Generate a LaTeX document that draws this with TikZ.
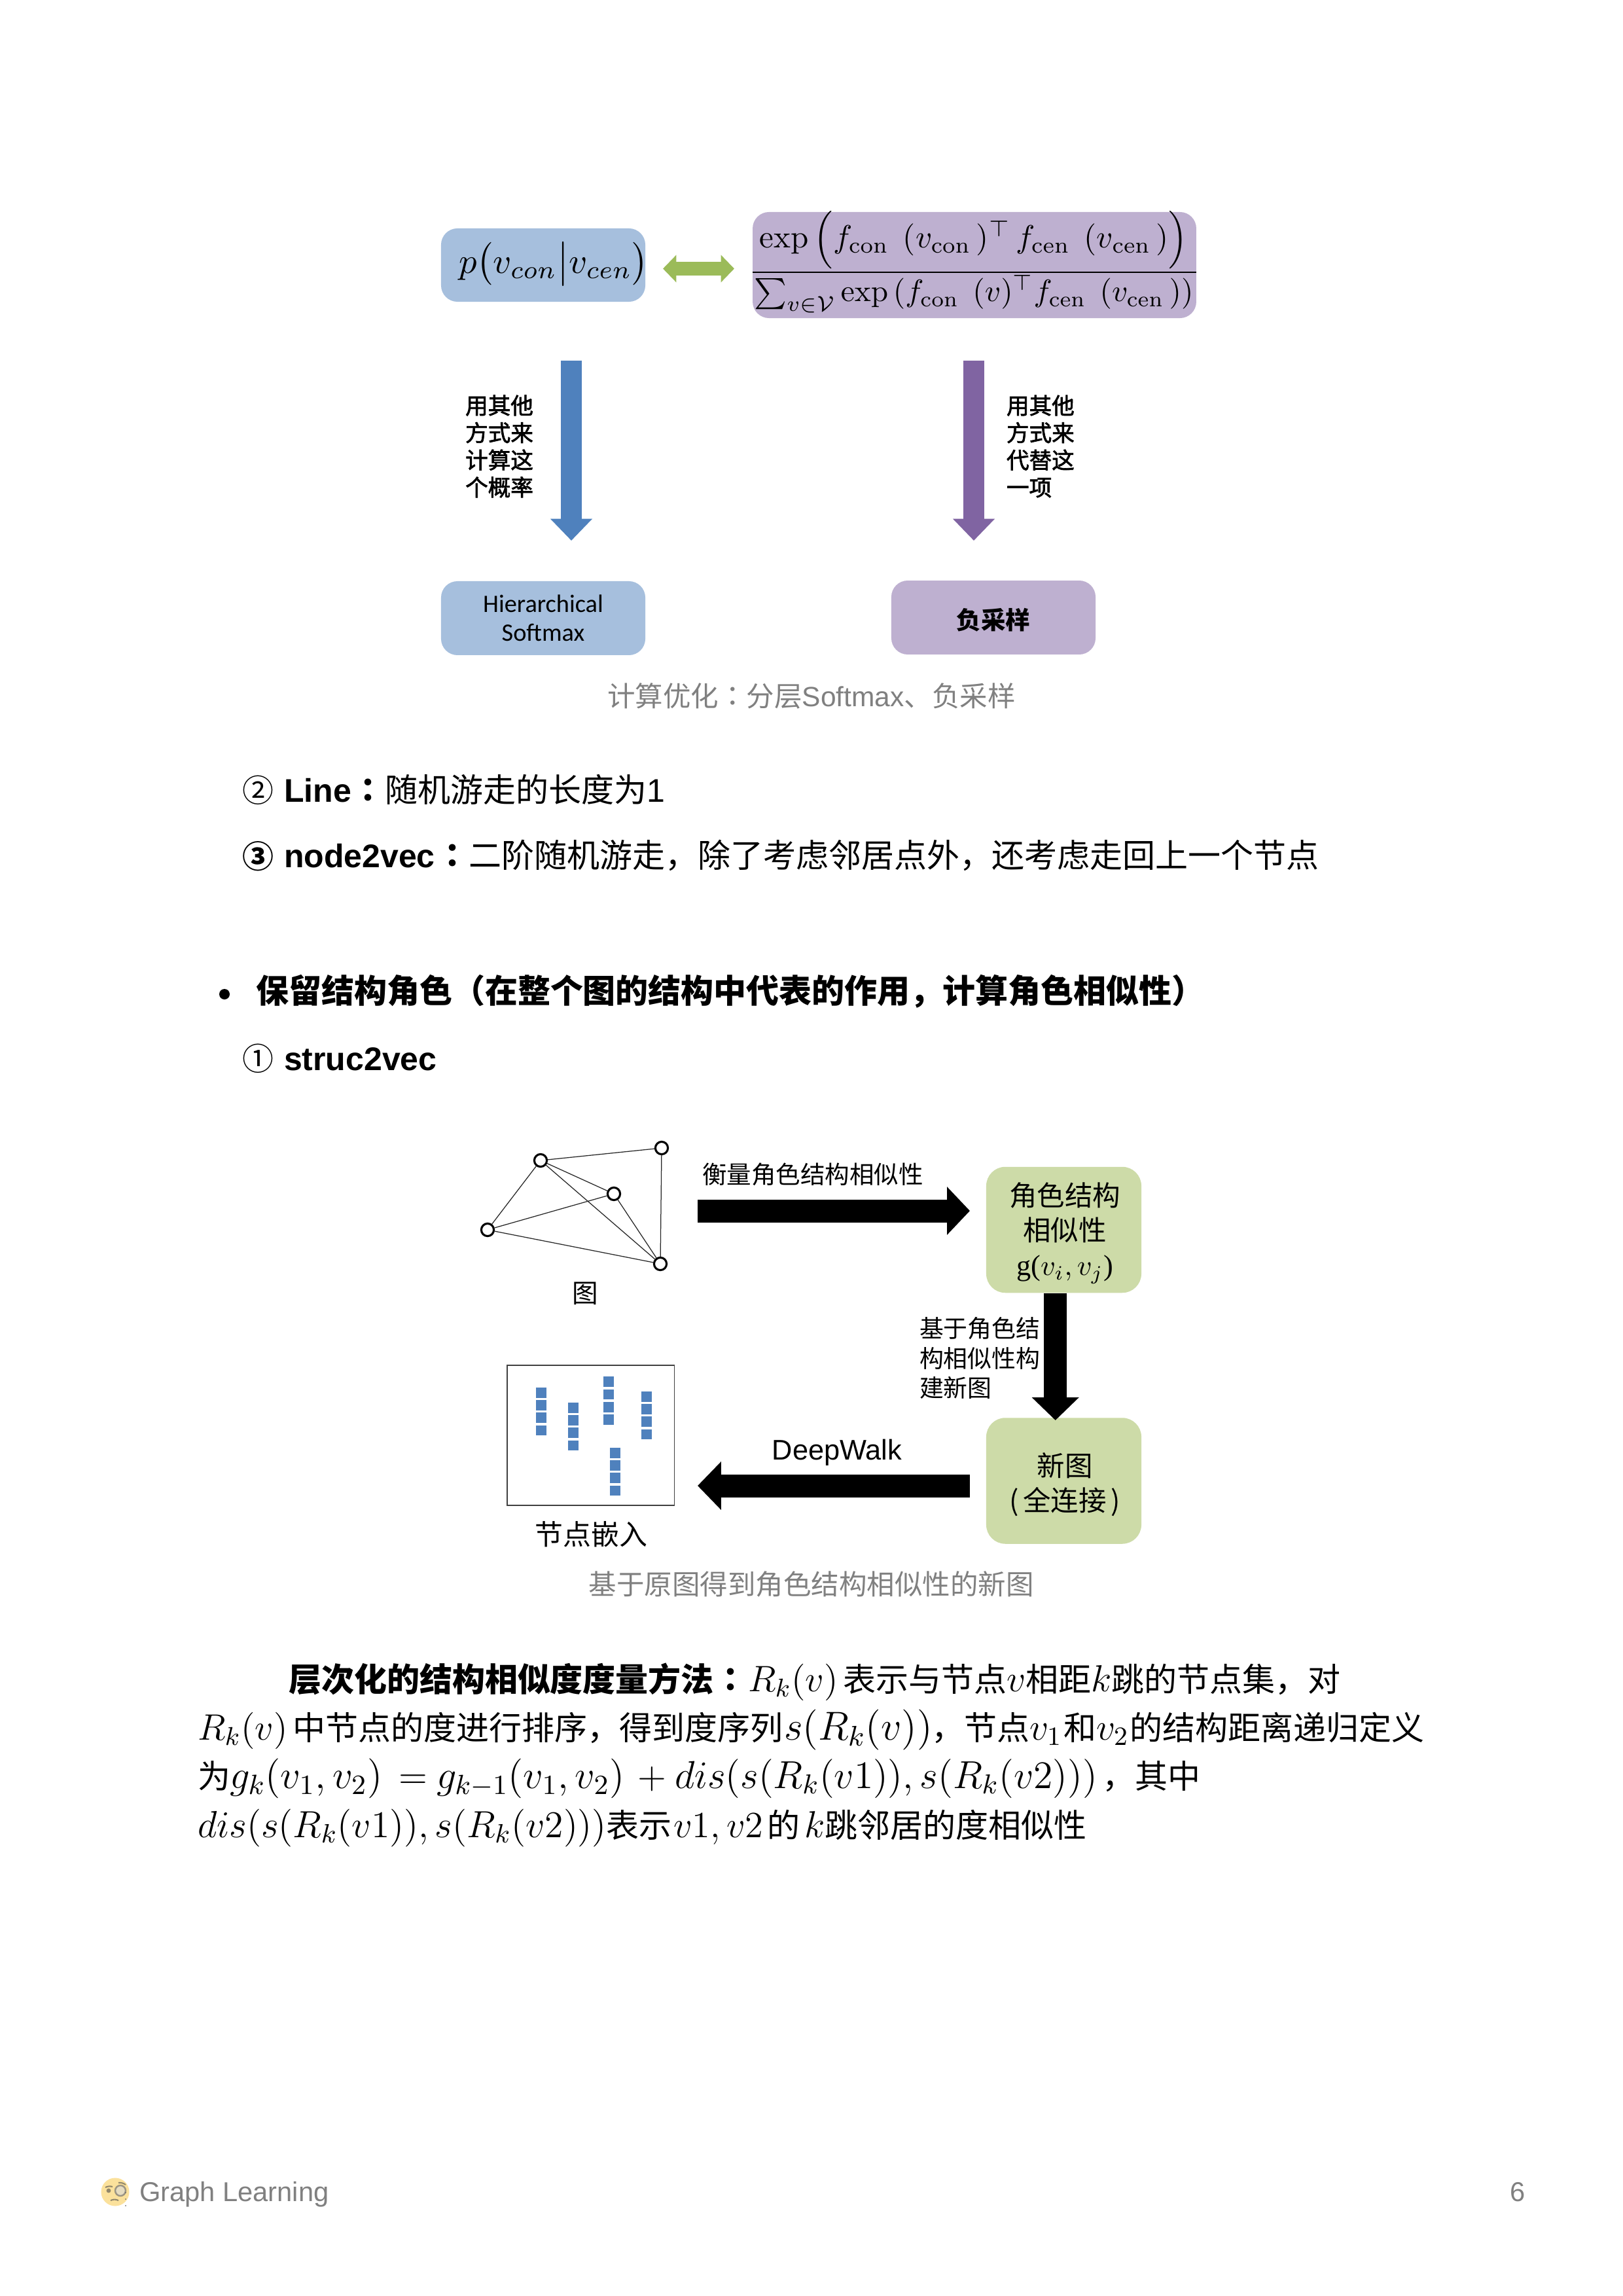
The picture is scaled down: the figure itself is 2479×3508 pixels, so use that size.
\RequirePackage{fix-cm}
\documentclass[tikz,border=0pt]{standalone}
\usepackage[no-math]{fontspec}
\usepackage{amsmath,amssymb,graphicx}
\usetikzlibrary{arrows.meta,calc}
\setmainfont{Liberation Sans}
\newfontfamily\cjk{Noto Sans CJK SC}
\newfontfamily\cjktc{Noto Sans CJK TC}
\newfontfamily\cjkm[FakeBold=2]{Noto Sans CJK SC}
\newfontfamily\carl{Carlito}
\newfontfamily\lser{Liberation Serif}
\newcommand\fsz[1]{\fontsize{#1}{#1}\selectfont}
\newcommand\zh[1]{{\cjk\fsz{12}#1}}
\newcommand\zhb[1]{{\cjk\bfseries\fsz{12}#1}}
\newcommand\mfit[2]{\resizebox{#1}{!}{$#2$}}
\newcommand\mcon{\mathrm{con}}
\newcommand\mcen{\mathrm{cen}}
\definecolor{boxblue}{HTML}{A6BFDD}
\definecolor{boxpurple}{HTML}{BEB0D0}
\definecolor{boxgreen}{HTML}{CDDBA8}
\definecolor{arrgreen}{HTML}{9BBB59}
\definecolor{arrblue}{HTML}{4F81BD}
\definecolor{arrpurple}{HTML}{8064A2}
\definecolor{capgrey}{HTML}{808080}
\tikzset{
  rbox/.style={rounded corners=6pt,inner sep=0pt,align=center},
  gbox/.style={rbox,fill=boxgreen,minimum width=56.9pt,minimum height=46.2pt,rounded corners=7pt},
  lab/.style={inner sep=0pt,outer sep=0pt},
  glabel/.style={lab,font=\cjk\fsz{10.2},align=center},
  body/.style={lab,anchor=base west,font=\fsz{12}},
  mbody/.style={lab,anchor=base west,font=\fsz{13.8}},
  vlabel/.style={lab,align=left,font=\cjkm\fsz{8.3}},
  dlabel/.style={lab,font=\cjk\fsz{9}},
  caption/.style={lab,text=capgrey,font=\cjk\fsz{10.2}},
  gnode/.style={circle,draw=black,line width=.75pt,fill=white,minimum size=4.6pt,inner sep=0pt},
  gedge/.style={line width=.3pt,draw=black!85},
  blockarrow/.style={line width=#1,line cap=butt},
}
\begin{document}
\begin{tikzpicture}[x=.24pt,y=-.24pt]
\useasboundingbox (0,0) rectangle (2479,3508);
% --- top figure
\node[rbox,fill=boxblue,minimum width=74.9pt,minimum height=26.9pt] (pbox) at (830,405) {};
\node[lab] (plabel) at (846,403.6) {\resizebox{69.5pt}{!}{$p\big(v_{con}\big|v_{cen}\big)$}};
\node[rbox,fill=boxpurple,minimum width=162.7pt,minimum height=38.9pt] (qbox) at (1489,405) {};
\node[lab,anchor=base] (qnum) at (1488,379) {\resizebox{157pt}{!}{$\exp\Big(f_{\mcon}\;\,(v_{\mcon}\,)^{\top}\,f_{\mcen}\;\,(v_{\mcen}\,)\Big)$}};
\node[lab,anchor=base] (qden) at (1488,461) {\resizebox{161pt}{!}{$\sum_{v\in\mathcal{V}}\exp\,(f_{\mcon}\;\,(v)^{\top}f_{\mcen}\;\,(v_{\mcen}\,))$}};
\coordinate (fl) at (1150,416);
\coordinate (fr) at (1828,416);
\draw[line width=.5pt] (fl) -- (fr);
\coordinate (gl) at (1013,410.5);
\coordinate (gr) at (1122,410.5);
\draw[arrgreen,line width=5pt,{Triangle[length=4.9pt,width=9.8pt]}-{Triangle[length=4.9pt,width=9.8pt]}] (gl) -- (gr);
\coordinate (ba) at (873,551);
\coordinate (bb) at (873,826);
\draw[arrblue,blockarrow=7.7pt,-{Triangle[length=8pt,width=14.9pt]}] (ba) -- (bb);
\coordinate (pa) at (1488,551);
\coordinate (pb) at (1488,826);
\draw[arrpurple,blockarrow=7.7pt,-{Triangle[length=8pt,width=14.9pt]}] (pa) -- (pb);
\node[vlabel] (vl1) at (763,682) {用其他\\[1.7pt]方式来\\[1.7pt]计算这\\[1.7pt]个概率};
\node[vlabel,anchor=west] (vl2) at (1538,682) {用其他\\[1.7pt]方式来\\[1.7pt]代替这\\[1.7pt]一项};
\node[rbox,fill=boxblue,minimum width=74.9pt,minimum height=27.12pt,font=\carl\fsz{9.2}] (hs) at (830,944.5) {Hierarchical\\[1.5pt]Softmax};
\node[rbox,fill=boxpurple,minimum width=74.9pt,minimum height=27.12pt] (ns) at (1518,943.5) {};
\node[lab,font=\cjk\bfseries\fsz{9}] (nsl) at (1518,947) {负采样};
\node[caption] (cap1) at (1240,1063) {计算优化{\cjktc ：}分层{\rmfamily Softmax}、负采样};
% --- list
\node[lab,font=\cjk\fsz{11.5}] (c2) at (394,1207) {②};
\node[body] (l2) at (434,1225) {\textbf{Line}};
\node[body] (l2c) at (537,1225) {{\cjktc\bfseries\fsz{12}：}};
\node[body] (l2b) at (588,1225) {\zh{随机游走的长度为}1};
\node[lab,font=\cjk\bfseries\fsz{11.5}] (c3) at (394,1308) {③};
\node[body] (l3) at (434,1325) {\textbf{node2vec}};
\node[body] (l3c) at (666,1325) {{\cjktc\bfseries\fsz{12}：}};
\node[body] (l3b) at (716,1325) {\zh{二阶随机游走，除了考虑邻居点外，还考虑走回上一个节点}};
\fill (343,1519) circle (8);
\node[body] (h1) at (391,1532) {\zhb{保留结构角色（在整个图的结构中代表的作用，计算角色相似性）}};
\node[lab,font=\cjk\fsz{11.5}] (c1) at (394,1617) {①};
\node[body] (l1) at (434,1635) {\textbf{struc2vec}};
% --- second figure
\node[gnode] (a) at (826,1773) {};
\node[gnode] (b) at (1011,1754) {};
\node[gnode] (c) at (938,1824) {};
\node[gnode] (d) at (745,1879) {};
\node[gnode] (e) at (1009,1931) {};
\draw[gedge] (a)--(b) (a)--(c) (a)--(d) (a)--(e) (b)--(e) (c)--(d) (c)--(e) (d)--(e);
\node[lab,font=\cjk\fsz{9.5}] (gl1) at (894,1976) {图};
\node[dlabel] (al1) at (1242,1794) {衡量角色结构相似性};
\node[gbox] (sim) at (1625.5,1879) {};
\node[glabel] (siml) at (1627,1884) {角色结构\\[2.6pt]相似性\\[2.6pt]\resizebox{35.4pt}{!}{{\lser g(}$v_i,v_j${\lser )}}};
\node[gbox] (new) at (1625.5,2262.5) {};
\node[glabel] (newl) at (1627,2268) {新图\\[2.6pt](\kern1.6pt全连接\kern1.6pt)};
\coordinate (a1s) at (1066,1850);
\coordinate (a1e) at (1482,1850);
\draw[black,blockarrow=8.4pt,-{Triangle[length=8.4pt,width=17.2pt]}] (a1s) -- (a1e);
\coordinate (a2s) at (1612.7,1975.5);
\coordinate (a2e) at (1612.7,2170);
\draw[black,blockarrow=8.4pt,-{Triangle[length=8.4pt,width=16.8pt]}] (a2s) -- (a2e);
\coordinate (a3s) at (1482,2270);
\coordinate (a3e) at (1066,2270);
\draw[black,blockarrow=8.4pt,-{Triangle[length=8.6pt,width=17.2pt]}] (a3s) -- (a3e);
\node[dlabel,align=left,anchor=west,font=\cjk\fsz{8.85}] (al2) at (1405,2075) {基于角色结\\[2pt]构相似性构\\[2pt]建新图};
\node[lab,font=\fsz{10.4}] (al3) at (1279,2219) {DeepWalk};
\draw[line width=.45pt,draw=black!75] (775,2086) rectangle (1030.5,2300);
\foreach \cx/\cy in {827/2120,875.5/2143,929.5/2103.4,988/2126,940/2212}{
  \foreach \i in {0,1,2,3}{
    \fill[arrblue] ({\cx-8},{\cy+\i*19.2}) rectangle ({\cx+8},{\cy+\i*19.2+15.7});
  }
}
\node[lab,font=\cjk\fsz{10.3}] (gl2) at (903.5,2344) {节点嵌入};
\node[caption] (cap2) at (1239.5,2420.5) {基于原图得到角色结构相似性的新图};
% --- paragraph
\node[body] (p0) at (441,2584) {\zhb{层次化的结构相似度度量方法}};
\node[body] (p0c) at (1091,2584) {{\cjktc\bfseries\fsz{12}：}};
\node[mbody] (p1a) at (1143,2584) {\mfit{33pt}{R_k(v)}};
\node[mbody] (p1b) at (1288,2584) {\zh{表示与节点}$v$\zh{相距}$k$\zh{跳的节点集，对}};
\node[mbody] (p2a) at (302,2658) {\mfit{33pt}{R_k(v)}};
\node[mbody] (p2b) at (447,2658) {\zh{中节点的度进行排序，得到度序列}};
\node[mbody] (p2c) at (1198,2658) {\mfit{54.5pt}{s(R_k(v))}};
\node[mbody] (p2d) at (1423,2658) {\zh{，节点}};
\node[mbody] (p2e) at (1573,2658) {$v_1$};
\node[mbody] (p2f) at (1625,2658) {\zh{和}};
\node[mbody] (p2g) at (1675,2658) {$v_2$};
\node[mbody] (p2h) at (1726,2658) {\zh{的结构距离递归定义}};
\node[mbody] (p3a) at (302,2732) {\zh{为}};
\node[mbody] (p3b) at (351,2732) {\mfit{56pt}{g_k(v_1,v_2)}};
\node[mbody] (p3c) at (609,2732) {$=$};
\node[mbody] (p3d) at (667,2732) {\mfit{69pt}{g_{k-1}(v_1,v_2)}};
\node[mbody] (p3e) at (974,2732) {$+$};
\node[mbody] (p3f) at (1031,2732) {\mfit{155pt}{dis(s(R_k(v1)),s(R_k(v2)))}};
\node[mbody] (p3g) at (1684,2732) {\zh{，其中}};
\node[mbody] (p4a) at (302,2807) {\mfit{150pt}{dis(s(R_k(v1)),s(R_k(v2)))}};
\node[mbody] (p4b) at (926,2807) {\zh{表示}};
\node[mbody] (p4c) at (1029,2807) {\mfit{33pt}{v1,v2}};
\node[mbody] (p4d) at (1172,2807) {\zh{的}};
\node[mbody] (p4e) at (1229,2807) {$k$};
\node[mbody] (p4f) at (1260,2807) {\zh{跳邻居的度相似性}};
% --- footer
\begin{scope}[opacity=.6]
\fill[color={rgb,255:red,248;green,205;blue,90}] (176,3349) circle (21.5);
\draw[line width=.5pt,color=black!70] (161,3342) to[bend left=20] (172,3341);
\fill[black!70] (166,3347) circle (3.4);
\draw[line width=.5pt,color=black!70] (181,3335) to[bend left=20] (192,3338);
\draw[line width=.6pt,color=black!60,fill=white!70!gray] (184,3347) circle (8);
\draw[line width=.5pt,color=black!70] (169,3362) to[bend left=25] (181,3362);
\draw[line width=.4pt,dotted,color=black!60] (192,3349) -- (192,3371);
\end{scope}
\node[lab,anchor=base west,text=capgrey,font=\fsz{10}] (ft) at (213,3363) {Graph Learning};
\node[lab,anchor=base,text=capgrey,font=\fsz{10}] (pg) at (2319,3363) {6};
\end{tikzpicture}
\end{document}
